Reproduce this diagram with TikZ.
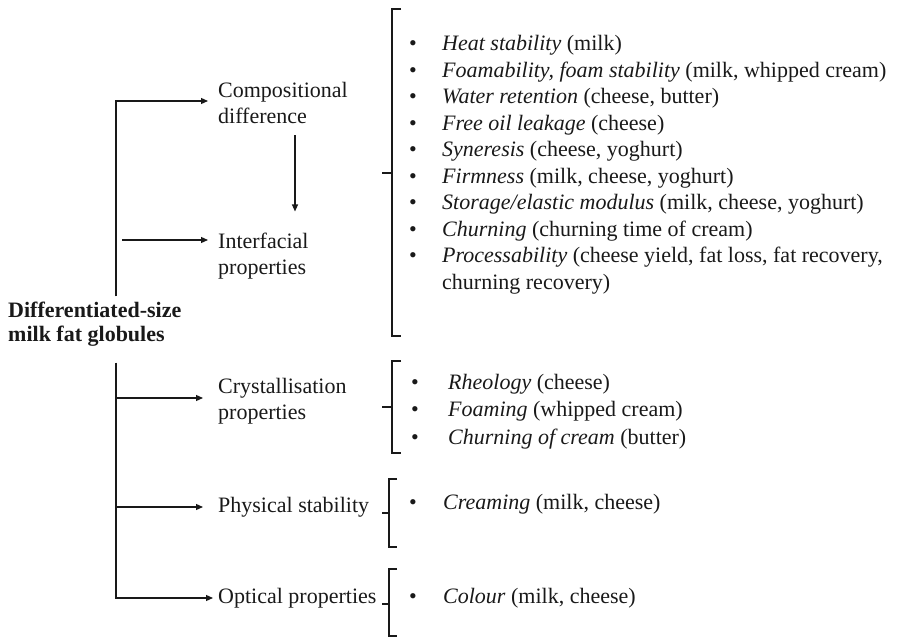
\documentclass[tikz,border=0pt]{standalone}
\usepackage{fontspec}
\setmainfont{Liberation Serif}
\usetikzlibrary{arrows.meta}

\begin{document}
\begin{tikzpicture}[x=1pt,y=-1pt,
  every node/.style={font=\fontsize{22}{26.5}\selectfont,text=ctext},
  arr/.style={draw=cline,line width=1.2pt,-{Triangle[length=7pt,width=6pt]}},
  brk/.style={draw=cline,line width=1.2pt},
  lbl/.style={anchor=west,align=left,inner xsep=10pt,inner ysep=0pt},
  item/.style={anchor=west,inner sep=0pt,text height=15pt,text depth=5pt}]
\definecolor{ctext}{rgb}{0.1,0.1,0.1}
\definecolor{cline}{rgb}{0.1,0.1,0.1}
\useasboundingbox (0,0) rectangle (898,639);
%
\node[anchor=west,align=left,inner sep=0pt,font=\bfseries\fontsize{22}{24.5}\selectfont] (root) at (8,324) {Differentiated-size\\milk fat globules};
\coordinate (T) at (116,0);
\coordinate (V) at (295,0);
%
\node[lbl] (comp) at (208,103) {Compositional\\difference};
\node[lbl] (inter) at (208,256) {Interfacial\\properties};
\node[lbl] (cryst) at (208,401) {Crystallisation\\properties};
\node[lbl] (phys) at (208,507) {Physical stability};
\node[lbl] (opt) at (208,598) {Optical properties};
%
\node[item] (i1) at (409,46) {\makebox[33pt][l]{\textbullet}\textit{Heat stability} (milk)};
\node[item] (i2) at (409,72.5) {\makebox[33pt][l]{\textbullet}\textit{Foamability, foam stability} (milk, whipped cream)};
\node[item] (i3) at (409,99) {\makebox[33pt][l]{\textbullet}\textit{Water retention} (cheese, butter)};
\node[item] (i4) at (409,125.5) {\makebox[33pt][l]{\textbullet}\textit{Free oil leakage} (cheese)};
\node[item] (i5) at (409,152) {\makebox[33pt][l]{\textbullet}\textit{Syneresis} (cheese, yoghurt)};
\node[item] (i6) at (409,178.5) {\makebox[33pt][l]{\textbullet}\textit{Firmness} (milk, cheese, yoghurt)};
\node[item] (i7) at (409,205) {\makebox[33pt][l]{\textbullet}\textit{Storage/elastic modulus} (milk, cheese, yoghurt)};
\node[item] (i8) at (409,231.5) {\makebox[33pt][l]{\textbullet}\textit{Churning} (churning time of cream)};
\node[item] (i9) at (409,258) {\makebox[33pt][l]{\textbullet}\textit{Processability} (cheese yield, fat loss, fat recovery,};
\node[item] (i9b) at (442,284.5) {churning recovery)};
%
\node[item] (c1) at (411,385) {\makebox[37pt][l]{\textbullet}\textit{Rheology} (cheese)};
\node[item] (c2) at (411,412) {\makebox[37pt][l]{\textbullet}\textit{Foaming} (whipped cream)};
\node[item] (c3) at (411,439) {\makebox[37pt][l]{\textbullet}\textit{Churning of cream} (butter)};
\node[item] (p1) at (409,504) {\makebox[34pt][l]{\textbullet}\textit{Creaming} (milk, cheese)};
\node[item] (o1) at (409,598) {\makebox[34pt][l]{\textbullet}\textit{Colour} (milk, cheese)};
%
\draw[brk] (401,9) -- (392,9) -- (392,336) -- (401,336);
\draw[brk] (382,173) -- (392,173);
\draw[brk] (401,361) -- (392,361) -- (392,453) -- (401,453);
\draw[brk] (382,407) -- (392,407);
\draw[brk] (397,479) -- (389,479) -- (389,547) -- (397,547);
\draw[brk] (382,513) -- (389,513);
\draw[brk] (397,569) -- (389,569) -- (389,636) -- (397,636);
\draw[brk] (382,604) -- (389,604);
%
\draw[arr] ([yshift=5pt]root.north -| T) |- ([yshift=2pt]comp.west);
\draw[arr] ([xshift=6pt,yshift=16pt]T |- inter.west) -- ([yshift=16pt]inter.west);
\draw[arr] ([yshift=-11pt]comp.south -| V) -- ([yshift=21pt]inter.north -| V);
\draw[arr] ([yshift=-16pt]root.south -| T) |- ([xshift=5pt]opt.west);
\draw[arr] ([yshift=3pt]T |- cryst.west) -- ([xshift=-5pt,yshift=3pt]cryst.west);
\draw[arr] (T |- phys.west) -- ([xshift=-5pt]phys.west);
%
\end{tikzpicture}
\end{document}
